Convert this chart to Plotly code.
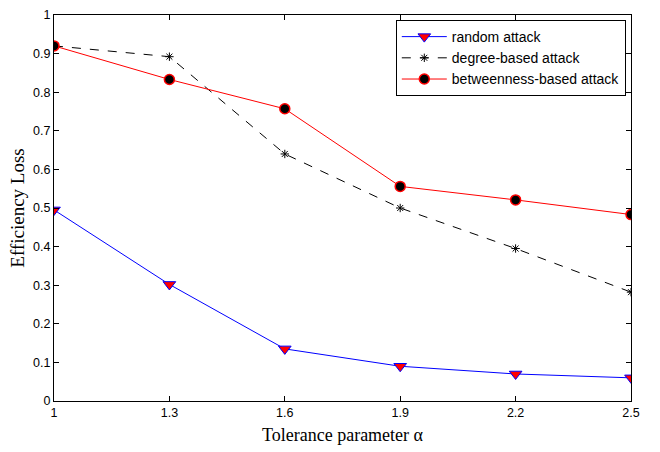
import plotly.graph_objects as go

alpha = [1.0, 1.3, 1.6, 1.9, 2.2, 2.5]
random_attack = [0.495, 0.302, 0.135, 0.090, 0.070, 0.060]
degree_attack = [0.920, 0.892, 0.640, 0.500, 0.395, 0.282]
betweenness_attack = [0.920, 0.833, 0.757, 0.556, 0.521, 0.483]
xticks = [1, 1.3, 1.6, 1.9, 2.2, 2.5]
yticks = [0, 0.1, 0.2, 0.3, 0.4, 0.5, 0.6, 0.7, 0.8, 0.9, 1]

fig = go.Figure()
fig.add_trace(go.Scatter(
    x=alpha, y=random_attack, mode="lines+markers", name="random attack",
    line=dict(color="blue", width=1),
    marker=dict(symbol="triangle-down", size=11, color="red", line=dict(color="blue", width=1)),
))
fig.add_trace(go.Scatter(
    x=alpha, y=degree_attack, mode="lines+markers", name="degree-based attack",
    line=dict(color="black", width=1, dash="dash"),
    marker=dict(symbol="asterisk", size=7, color="black", line=dict(color="black", width=1)),
))
fig.add_trace(go.Scatter(
    x=alpha, y=betweenness_attack, mode="lines+markers", name="betweenness-based attack",
    line=dict(color="red", width=1),
    marker=dict(symbol="circle", size=10, color="black", line=dict(color="red", width=1.5)),
))

axis_common = dict(
    showgrid=False, zeroline=False, showline=True, linecolor="black", linewidth=1,
    mirror="ticks", ticks="inside", ticklen=5, tickcolor="black",
    tickfont=dict(family="Liberation Sans, Arial", size=12.5, color="black"),
)
fig.update_xaxes(range=[1, 2.5], tickvals=xticks, ticktext=[str(v) for v in xticks],
                 title=dict(text="Tolerance parameter α", font=dict(family="Liberation Serif, Times New Roman", size=18, color="black"), standoff=9),
                 **axis_common)
fig.update_yaxes(range=[0, 1], tickvals=yticks, ticktext=[("%g" % v) for v in yticks],
                 title=dict(text="Efficiency Loss", font=dict(family="Liberation Serif, Times New Roman", size=19, color="black"), standoff=3),
                 **axis_common)

fig.update_layout(
    width=660, height=452,
    margin=dict(l=54, r=29, t=8, b=51),
    plot_bgcolor="white", paper_bgcolor="white",
    showlegend=True,
    legend=dict(x=0.991, y=0.987, xanchor="right", yanchor="top",
                bordercolor="black", borderwidth=1, bgcolor="white",
                font=dict(family="Liberation Sans, Arial", size=14, color="black"),
                tracegroupgap=0, itemwidth=45),
)

fig.write_html("out.html")
